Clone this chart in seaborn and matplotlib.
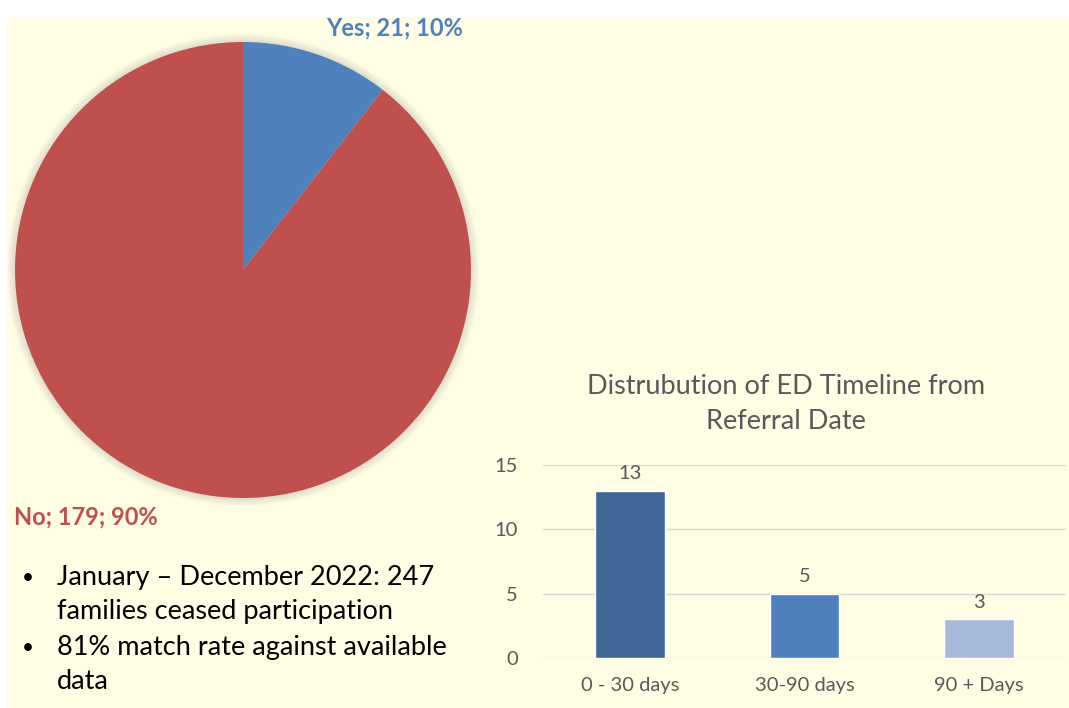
import numpy as np
import pandas as pd
import matplotlib
matplotlib.use("Agg")
import matplotlib.pyplot as plt
import seaborn as sns
from matplotlib.patches import Rectangle, Circle

# pie data
pie_labels = ["Yes", "No"]
pie_counts = [21, 179]
pie_colors = ["#4F81BD", "#C0504D"]

# bar data
bar_cats = ["0 - 30 days", "30-90 days", "90 + Days"]
bar_vals = [13, 5, 3]
bar_colors = ["#3F6797", "#4F81BD", "#A7B9DA"]

bullets = ["January \u2013 December 2022: 247\nfamilies ceased participation",
           "81% match rate against available\ndata"]

BG = "#FFFDE4"
GREY = "#595959"

sns.set_theme(style="white")
plt.rcParams["font.family"] = ["Lato", "DejaVu Sans"]

W, H = 1069, 708
fig = plt.figure(figsize=(W / 100, H / 100), dpi=100, facecolor="white")
fig.patches.append(Rectangle((7 / W, 0), 1 - 7 / W, 1 - 17 / H, transform=fig.transFigure,
                             facecolor=BG, edgecolor="none", zorder=-10))

def px(x, y):
    return x / W, 1 - y / H

# ---- pie ----
pax = fig.add_axes([5 / W, 200 / H, 476 / W, 476 / H])
# soft shadow around the pie
for r in np.linspace(1.035, 1.0, 8):
    pax.add_patch(Circle((0, 0), r, facecolor="#909090", edgecolor="none", alpha=0.04))
pax.pie(pie_counts, colors=pie_colors, startangle=90, counterclock=False,
        wedgeprops=dict(linewidth=0))
lim = 476 / 456
pax.set_xlim(-lim, lim)
pax.set_ylim(-lim, lim)
pax.set_aspect("equal")
pax.axis("off")

total = sum(pie_counts)
lab = [f"{l}; {c}; {round(100 * c / total):.0f}%" for l, c in zip(pie_labels, pie_counts)]
fig.text(*px(395, 28), lab[0], color=pie_colors[0], fontsize=17, fontweight="bold",
         ha="center", va="center")
fig.text(*px(14, 517), lab[1], color=pie_colors[1], fontsize=17, fontweight="bold",
         ha="left", va="center")

# ---- bullets ----
y0 = 578
for i, b in enumerate(bullets):
    yy = y0 + i * 70
    fig.text(*px(22, yy), "\u2022", fontsize=15, color="black", ha="left", va="center")
    fig.text(*px(57, yy - 13), b, fontsize=19.5, color="black", ha="left", va="top",
             linespacing=1.45)

# ---- bar chart ----
bax = fig.add_axes([543 / W, 50 / H, 523 / W, 193 / H])
bax.set_facecolor("none")
df = pd.DataFrame({"cat": bar_cats, "val": bar_vals})
sns.barplot(data=df, x="cat", y="val", hue="cat", palette=bar_colors, width=0.4,
            legend=False, ax=bax, saturation=1)
for c in bax.containers:
    bax.bar_label(c, padding=6, fontsize=14.5, color=GREY)
bax.set_ylim(0, 15)
bax.set_yticks([0, 5, 10, 15])
bax.grid(axis="y", color="#D9D9D9", linewidth=1)
bax.set_axisbelow(True)
for s in bax.spines.values():
    s.set_visible(False)
bax.tick_params(axis="both", length=0, labelsize=14.5, labelcolor=GREY)
bax.tick_params(axis="y", pad=18)
bax.tick_params(axis="x", pad=14)
bax.set_xlabel("")
bax.set_ylabel("")

fig.text(*px(786, 404), "Distrubution of ED Timeline from\nReferral Date", fontsize=19.5,
         color=GREY, ha="center", va="center", linespacing=1.5)

fig.savefig("out.png", dpi=100, facecolor="white")
